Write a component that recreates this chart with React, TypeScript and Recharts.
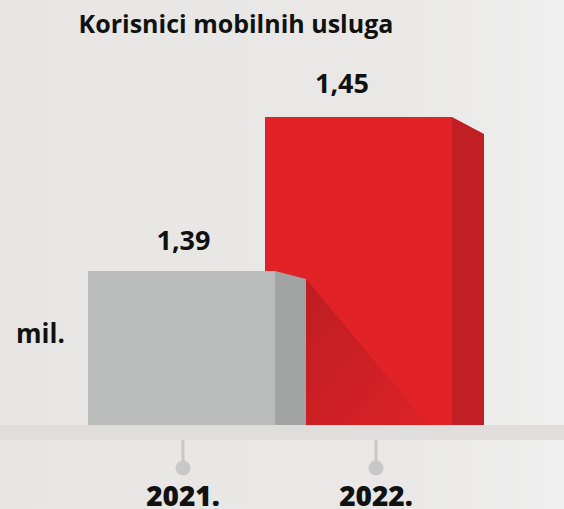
import React from 'react';
import { BarChart, Bar, XAxis, YAxis, Customized, LabelList } from 'recharts';

const years = ['2021.', '2022.'];
const grayValues = [1.39, null];
const redValues = [null, 1.45];
const valueLabels = ['1,39', '1,45'];
const title = 'Korisnici mobilnih usluga';
const unit = 'mil.';

const data = years.map((y, i) => ({
  year: y,
  gray: grayValues[i],
  red: redValues[i],
  label: valueLabels[i],
}));

const FONT = '"Open Sans", sans-serif';

const baseOf = (p: any) =>
  p.background && p.background.height ? p.background.y + p.background.height : 425;

const GrayShape = (p: any) => {
  if (p.payload == null || p.payload.gray == null) return <g />;
  const cx = p.x + p.width / 2;
  const base = baseOf(p);
  const top = p.y;
  const l = cx - 95;
  const r = cx + 92;
  const s = r + 31;
  return (
    <g>
      <defs>
        <linearGradient id="shadowGrad" x1="0" y1="0" x2="1" y2="1">
          <stop offset="0" stopColor="#bd1d22" />
          <stop offset="1" stopColor="#dc2227" />
        </linearGradient>
      </defs>
      <polygon points={`${s},${top + 8} ${s + 122},${base} ${s},${base}`} fill="url(#shadowGrad)" />
      <rect x={l} y={top} width={r - l} height={base - top} fill="#babcbb" />
      <polygon points={`${r},${top} ${s},${top + 8} ${s},${base} ${r},${base}`} fill="#a2a4a3" />
    </g>
  );
};

const RedShape = (p: any) => {
  if (p.payload == null || p.payload.red == null) return <g />;
  const cx = p.x + p.width / 2;
  const base = baseOf(p);
  const top = p.y;
  const l = cx - 110;
  const r = cx + 77;
  const s = r + 32;
  return (
    <g>
      <rect x={l} y={top} width={r - l} height={base - top} fill="#e12227" />
      <polygon points={`${r},${top} ${s},${top + 17} ${s},${base} ${r},${base}`} fill="#c01f24" />
    </g>
  );
};

const makeLabel = (key: string, dx: number, dy: number) => (p: any) => {
  const { x, y, width, index } = p;
  if (data[index] == null || (data[index] as any)[key] == null) return null;
  return (
    <text
      x={x + width / 2 + dx}
      y={y - dy}
      textAnchor="middle"
      fontFamily={FONT}
      fontWeight={700}
      fontSize={27}
      fill="#111"
    >
      {data[index].label}
    </text>
  );
};

const YearTick = (p: any) => {
  const { x, y, payload, index } = p;
  const tx = x + (index === 1 ? 1 : 0);
  return (
    <g>
      <rect x={tx - 1.5} y={y + 15} width={3} height={24} fill="#c8c8c8" />
      <circle cx={tx} cy={y + 43} r={7.5} fill="#c8c8c8" />
      <text x={tx} y={y + 81} textAnchor="middle" fontFamily={FONT} fontWeight={800} fontSize={28} fill="#111">
        {payload.value}
      </text>
    </g>
  );
};

const Texts = () => (
  <g>
    <text x={236} y={33} textAnchor="middle" fontFamily={FONT} fontWeight={700} fontSize={25} fill="#111">
      {title}
    </text>
    <text x={16} y={343} fontFamily={FONT} fontWeight={700} fontSize={26} fill="#111">
      {unit}
    </text>
  </g>
);

export default function App() {
  return (
    <div
      style={{
        position: 'absolute',
        left: 0,
        top: 0,
        width: 564,
        height: 509,
        overflow: 'hidden',
        background: 'linear-gradient(90deg, #e7e6e4 0%, #e9e8e6 70%, #efefef 100%)',
      }}
    >
      <div style={{ position: 'absolute', left: 0, top: 425, width: 564, height: 15, background: '#dfdedc' }} />
      <div style={{ position: 'absolute', left: 0, top: 0 }}>
        <BarChart
          width={564}
          height={509}
          data={data}
          margin={{ top: 40, right: 93, bottom: 0, left: 87 }}
          barCategoryGap={0}
        >
          <XAxis
            dataKey="year"
            axisLine={false}
            tickLine={false}
            tickSize={0}
            tickMargin={0}
            height={84}
            interval={0}
            tick={<YearTick />}
          />
          <YAxis hide domain={[1.33, 1.48]} allowDataOverflow />
          <Bar dataKey="red" stackId="s" shape={<RedShape />} isAnimationActive={false}>
            <LabelList dataKey="red" content={makeLabel('red', -33, 24)} />
          </Bar>
          <Bar dataKey="gray" stackId="s" shape={<GrayShape />} isAnimationActive={false}>
            <LabelList dataKey="gray" content={makeLabel('gray', 0.5, 21)} />
          </Bar>
          <Customized component={Texts} />
        </BarChart>
      </div>
    </div>
  );
}
